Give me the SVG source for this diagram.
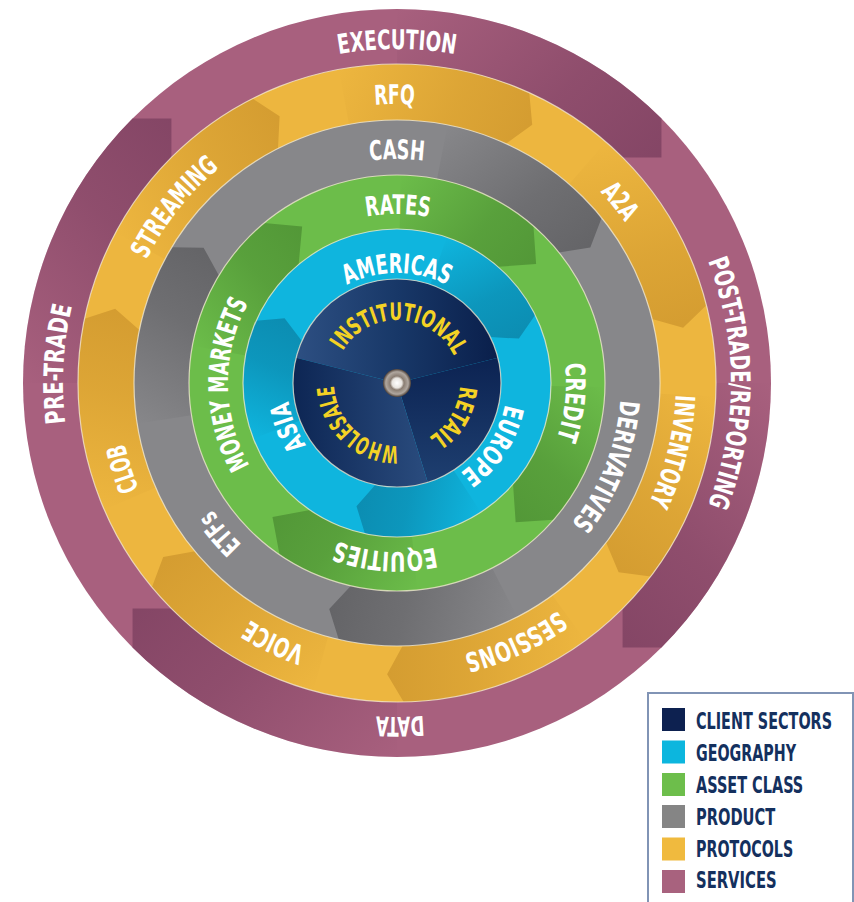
<svg xmlns="http://www.w3.org/2000/svg" xmlns:xlink="http://www.w3.org/1999/xlink" width="854" height="902" viewBox="0 0 854 902">
<style>
.lbl{font-family:'DejaVu Sans Condensed','Liberation Sans Narrow','DejaVu Sans',sans-serif;font-weight:bold;font-stretch:condensed;fill:#ffffff;font-size:27px;text-anchor:middle}
.cs{fill:#F4D224;font-size:24px}
.lg{font-family:'DejaVu Sans Condensed','Liberation Sans Narrow','DejaVu Sans',sans-serif;font-weight:bold;font-stretch:condensed;fill:#14305E;font-size:23px}
.sep{fill:none;stroke:#f6ecd4;stroke-opacity:.75;stroke-width:1.2}
</style>
<defs>
<path id="pP" d="M63,383 A334,334 0 0 1 731,383"/>
<path id="pY" d="M118,383 A279,279 0 0 1 676,383"/>
<path id="pG" d="M173,383 A224,224 0 0 1 621,383"/>
<path id="pA" d="M228,383 A169,169 0 0 1 566,383"/>
<path id="pB" d="M287,383 A110,110 0 0 1 507,383"/>
<path id="pC" d="M334,383 A63,63 0 0 1 460,383"/>
<linearGradient id="gP" x1="0" y1="0" x2="0" y2="1"><stop offset="0" stop-color="#7E4161" stop-opacity="0"/><stop offset=".6" stop-color="#7E4161" stop-opacity=".6"/><stop offset="1" stop-color="#7E4161" stop-opacity=".85"/></linearGradient>
<linearGradient id="gY" x1="0" y1="0" x2="0" y2="1"><stop offset="0" stop-color="#CC942C" stop-opacity="0"/><stop offset=".6" stop-color="#CC942C" stop-opacity=".5"/><stop offset="1" stop-color="#CC942C" stop-opacity=".75"/></linearGradient>
<linearGradient id="gG" x1="0" y1="0" x2="0" y2="1"><stop offset="0" stop-color="#5E5E61" stop-opacity="0"/><stop offset=".6" stop-color="#5E5E61" stop-opacity=".6"/><stop offset="1" stop-color="#5E5E61" stop-opacity=".85"/></linearGradient>
<linearGradient id="gA" x1="0" y1="0" x2="0" y2="1"><stop offset="0" stop-color="#4E9134" stop-opacity="0"/><stop offset=".6" stop-color="#4E9134" stop-opacity=".65"/><stop offset="1" stop-color="#4E9134" stop-opacity=".85"/></linearGradient>
<linearGradient id="gB" x1="0" y1="0" x2="0" y2="1"><stop offset="0" stop-color="#0B86AA" stop-opacity="0"/><stop offset=".6" stop-color="#0B86AA" stop-opacity=".65"/><stop offset="1" stop-color="#0B86AA" stop-opacity=".85"/></linearGradient>
<path id="aP" d="M661.5,118.5 A374,374 0 0 1 771,383 L743.5,410.5 L716,383 A319,319 0 0 0 622.6,157.4 Z" fill="url(#gP)"/>
<path id="aY" d="M658.3,200 A319,319 0 0 1 716,383 L688,399 L660,383 A263,263 0 0 0 612.4,232.1 Z" fill="url(#gY)"/>
<path id="aG" d="M598.5,213.9 A263,263 0 0 1 660,383 L632.5,399 L605,383 A208,208 0 0 0 556.3,249.3 Z" fill="url(#gG)"/>
<path id="aA" d="M556.3,249.3 A208,208 0 0 1 605,383 L578,410 L551,383 A154,154 0 0 0 515,284 Z" fill="url(#gA)"/>
<path id="aB" d="M505.9,274.1 A154,154 0 0 1 551,383 L526,397 L501,383 A104,104 0 0 0 470.5,309.5 Z" fill="url(#gB)"/>
<linearGradient id="gInst" x1="0" y1="0" x2="1" y2="0"><stop offset="0" stop-color="#2D4F82"/><stop offset=".5" stop-color="#183868"/><stop offset="1" stop-color="#0A1F4B"/></linearGradient>
<linearGradient id="gRet" x1="0" y1="0" x2="0" y2="1"><stop offset="0" stop-color="#0C2352"/><stop offset="1" stop-color="#1E3F70"/></linearGradient>
<linearGradient id="gWho" x1="0" y1="0" x2="1" y2="0"><stop offset="0" stop-color="#0D2654"/><stop offset="1" stop-color="#2A4C7E"/></linearGradient>
<radialGradient id="gHub" cx=".5" cy=".5" r=".5"><stop offset="0" stop-color="#ffffff"/><stop offset=".35" stop-color="#e8e4df"/><stop offset=".5" stop-color="#8a7d72"/><stop offset=".8" stop-color="#b0a79f"/><stop offset="1" stop-color="#4d4038"/></radialGradient>
</defs>

<g id="services">
<circle cx="397" cy="383" r="374" fill="#A8607E"/>
<g id="arrows-services">
<use href="#aP" transform="rotate(45 397 383)"/>
<use href="#aP" transform="rotate(135 397 383)"/>
<use href="#aP" transform="rotate(225 397 383)"/>
<use href="#aP" transform="rotate(315 397 383)"/>
</g>
</g>
<g id="protocols">
<circle cx="397" cy="383" r="319" fill="#EDB63F"/>
<g id="arrows-protocols">
<use href="#aY" transform="rotate(37.35 397 383)"/>
<use href="#aY" transform="rotate(88.8 397 383)"/>
<use href="#aY" transform="rotate(140.2 397 383)"/>
<use href="#aY" transform="rotate(191.6 397 383)"/>
<use href="#aY" transform="rotate(243.1 397 383)"/>
<use href="#aY" transform="rotate(294.5 397 383)"/>
<use href="#aY" transform="rotate(345.9 397 383)"/>
</g>
</g>
<g id="product">
<circle cx="397" cy="383" r="263" fill="#87878A"/>
<g id="arrows-product">
<use href="#aG" transform="rotate(321.1 397 383)"/>
<use href="#aG" transform="rotate(102.8 397 383)"/>
<use href="#aG" transform="rotate(211.1 397 383)"/>
</g>
</g>
<g id="asset-class">
<circle cx="397" cy="383" r="208" fill="#6CBD4A"/>
<g id="arrows-asset">
<use href="#aA" transform="rotate(311 397 383)"/>
<use href="#aA" transform="rotate(41.1 397 383)"/>
<use href="#aA" transform="rotate(124.4 397 383)"/>
<use href="#aA" transform="rotate(230.3 397 383)"/>
</g>
</g>
<g id="geography">
<circle cx="397" cy="383" r="154" fill="#0FB5DE"/>
<g id="arrows-geography">
<use href="#aB" transform="rotate(333.8 397 383)"/>
<use href="#aB" transform="rotate(102 397 383)"/>
<use href="#aB" transform="rotate(203.8 397 383)"/>
</g>
</g>
<g id="client-sectors">
<path id="sec-inst" d="M397,383 L296.1,357.8 A104,104 0 0 1 497.9,357.8 Z" fill="url(#gInst)"/>
<path id="sec-retail" d="M397,383 L497.9,357.8 A104,104 0 0 1 427.8,482.4 Z" fill="url(#gRet)"/>
<path id="sec-whole" d="M397,383 L427.8,482.4 A104,104 0 0 1 296.1,357.8 Z" fill="url(#gWho)"/>
<circle cx="397" cy="383" r="14" fill="url(#gHub)"/>
</g>

<g id="separators">
<circle class="sep" cx="397" cy="383" r="319"/>
<circle class="sep" cx="397" cy="383" r="263"/>
<circle class="sep" cx="397" cy="383" r="208"/>
<circle class="sep" cx="397" cy="383" r="154"/>
<circle class="sep" cx="397" cy="383" r="104"/>
</g>

<g id="labels">
<g id="n-execution" transform="rotate(0 397 383)"><text class="lbl"><textPath href="#pP" startOffset="50%" textLength="117" lengthAdjust="spacingAndGlyphs">EXECUTION</textPath></text></g>
<g id="n-posttrade" transform="rotate(90 397 383)"><text class="lbl"><textPath href="#pP" startOffset="50%" textLength="250" lengthAdjust="spacingAndGlyphs">POST-TRADE/REPORTING</textPath></text></g>
<g id="n-data" transform="rotate(179.5 397 383)"><text class="lbl"><textPath href="#pP" startOffset="50%" textLength="48" lengthAdjust="spacingAndGlyphs">DATA</textPath></text></g>
<g id="n-pretrade" transform="rotate(273.2 397 383)"><text class="lbl"><textPath href="#pP" startOffset="50%" textLength="118" lengthAdjust="spacingAndGlyphs">PRE-TRADE</textPath></text></g>

<g id="n-rfq" transform="rotate(-0.5 397 383)"><text class="lbl"><textPath href="#pY" startOffset="50%" textLength="40" lengthAdjust="spacingAndGlyphs">RFQ</textPath></text></g>
<g id="n-a2a" transform="rotate(50.8 397 383)"><text class="lbl"><textPath href="#pY" startOffset="50%" textLength="40" lengthAdjust="spacingAndGlyphs">A2A</textPath></text></g>
<g id="n-inventory" transform="rotate(103.9 397 383)"><text class="lbl"><textPath href="#pY" startOffset="50%" textLength="112" lengthAdjust="spacingAndGlyphs">INVENTORY</textPath></text></g>
<g id="n-sessions" transform="rotate(155.4 397 383)"><text class="lbl"><textPath href="#pY" startOffset="50%" textLength="105" lengthAdjust="spacingAndGlyphs">SESSIONS</textPath></text></g>
<g id="n-voice" transform="rotate(205.5 397 383)"><text class="lbl"><textPath href="#pY" startOffset="50%" textLength="62" lengthAdjust="spacingAndGlyphs">VOICE</textPath></text></g>
<g id="n-clob" transform="rotate(252.6 397 383)"><text class="lbl"><textPath href="#pY" startOffset="50%" textLength="48" lengthAdjust="spacingAndGlyphs">CLOB</textPath></text></g>
<g id="n-streaming" transform="rotate(-51.7 397 383)"><text class="lbl"><textPath href="#pY" startOffset="50%" textLength="118" lengthAdjust="spacingAndGlyphs">STREAMING</textPath></text></g>

<g id="n-cash" transform="rotate(0 397 383)"><text class="lbl"><textPath href="#pG" startOffset="50%" textLength="54" lengthAdjust="spacingAndGlyphs">CASH</textPath></text></g>
<g id="n-derivatives" transform="rotate(111.6 397 383)"><text class="lbl"><textPath href="#pG" startOffset="50%" textLength="135" lengthAdjust="spacingAndGlyphs">DERIVATIVES</textPath></text></g>
<g id="n-etfs" transform="rotate(229.7 397 383)"><text class="lbl"><textPath href="#pG" startOffset="50%" textLength="46" lengthAdjust="spacingAndGlyphs">ETFs</textPath></text></g>

<g id="n-rates" transform="rotate(0.3 397 383)"><text class="lbl"><textPath href="#pA" startOffset="50%" textLength="63" lengthAdjust="spacingAndGlyphs">RATES</textPath></text></g>
<g id="n-credit" transform="rotate(96.3 397 383)"><text class="lbl"><textPath href="#pA" startOffset="50%" textLength="76" lengthAdjust="spacingAndGlyphs">CREDIT</textPath></text></g>
<g id="n-equities" transform="rotate(184 397 383)"><text class="lbl"><textPath href="#pA" startOffset="50%" textLength="100" lengthAdjust="spacingAndGlyphs">EQUITIES</textPath></text></g>
<g id="n-moneymarkets" transform="rotate(269.5 397 383)"><text class="lbl"><textPath href="#pA" startOffset="50%" textLength="170" lengthAdjust="spacingAndGlyphs">MONEY MARKETS</textPath></text></g>

<g id="n-americas" transform="rotate(0 397 383)"><text class="lbl"><textPath href="#pB" startOffset="50%" textLength="104" lengthAdjust="spacingAndGlyphs">AMERICAS</textPath></text></g>
<g id="n-europe" transform="rotate(123 397 383)"><text class="lbl"><textPath href="#pB" startOffset="50%" textLength="84" lengthAdjust="spacingAndGlyphs">EUROPE</textPath></text></g>
<g id="n-asia" transform="rotate(248.1 397 383)"><text class="lbl"><textPath href="#pB" startOffset="50%" textLength="48" lengthAdjust="spacingAndGlyphs">ASIA</textPath></text></g>

<g id="n-institutional" transform="rotate(2.5 397 383)"><text class="lbl cs"><textPath href="#pC" startOffset="50%" textLength="136" lengthAdjust="spacingAndGlyphs">INSTITUTIONAL</textPath></text></g>
<g id="n-retail" transform="rotate(121 397 383)"><text class="lbl cs"><textPath href="#pC" startOffset="50%" textLength="62" lengthAdjust="spacingAndGlyphs">RETAIL</textPath></text></g>
<g id="n-wholesale" transform="rotate(223 397 383)"><text class="lbl cs"><textPath href="#pC" startOffset="50%" textLength="98" lengthAdjust="spacingAndGlyphs">WHOLESALE</textPath></text></g>
</g>

<g id="legend">
<path d="M648,902 V693 H853 V902" fill="none" stroke="#8194B5" stroke-width="2"/>
<rect x="662" y="708" width="23" height="23" fill="#0D2150"/>
<rect x="662" y="740.5" width="23" height="23" fill="#0CB6DE"/>
<rect x="662" y="773" width="23" height="23" fill="#6DBE4B"/>
<rect x="662" y="805" width="23" height="23" fill="#858585"/>
<rect x="662" y="837.5" width="23" height="23" fill="#F0BA3E"/>
<rect x="662" y="870" width="23" height="23" fill="#A8627E"/>
<g transform="translate(696,0) scale(0.72,1)">
<text class="lg" x="0" y="729.3" textLength="189" lengthAdjust="spacingAndGlyphs">CLIENT SECTORS</text>
<text class="lg" x="0" y="761" textLength="139" lengthAdjust="spacingAndGlyphs">GEOGRAPHY</text>
<text class="lg" x="0" y="793.3" textLength="149" lengthAdjust="spacingAndGlyphs">ASSET CLASS</text>
<text class="lg" x="0" y="825" textLength="110" lengthAdjust="spacingAndGlyphs">PRODUCT</text>
<text class="lg" x="0" y="856.7" textLength="135" lengthAdjust="spacingAndGlyphs">PROTOCOLS</text>
<text class="lg" x="0" y="888.3" textLength="112" lengthAdjust="spacingAndGlyphs">SERVICES</text>
</g>
</g>
</svg>
